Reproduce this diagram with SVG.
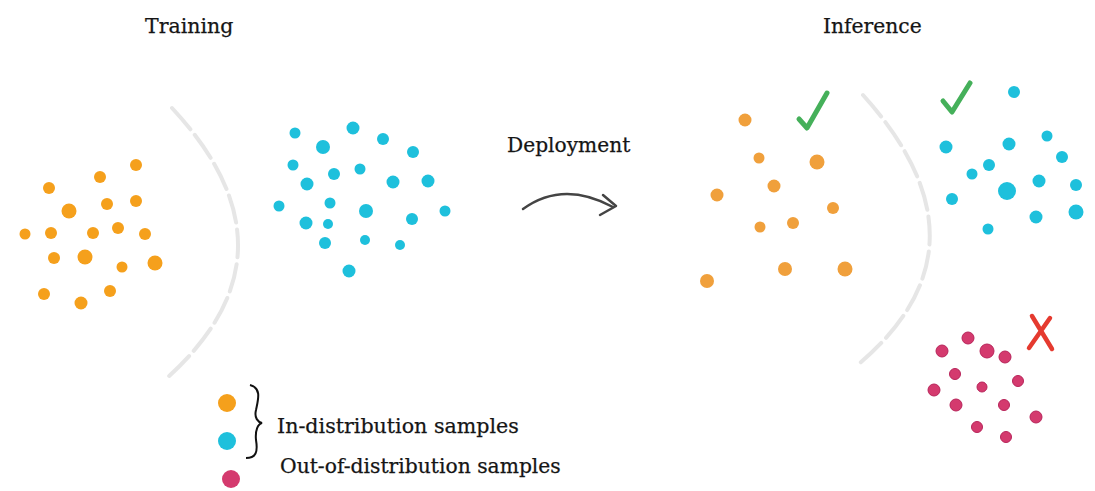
<svg xmlns="http://www.w3.org/2000/svg" width="1095" height="491" viewBox="0 0 1095 491">
<style>
.t{font-family:"DejaVu Serif","Liberation Serif",serif;fill:#151515;stroke:#151515;stroke-width:0.25}
.o{fill:#f5a01c}
.oi{fill:#f0a03c}
.c{fill:#1ec0dc}
.m{fill:#d43a6e;stroke:#b8245a;stroke-width:1}
.arc{fill:none;stroke:#e6e6e6;stroke-width:4;stroke-dasharray:28 7;stroke-linecap:round}
.chk{fill:none;stroke:#45b05a;stroke-width:5;stroke-linecap:round;stroke-linejoin:round}
</style>
<rect width="1095" height="491" fill="#ffffff"/>
<g id="titles">
<text class="t" x="145" y="33" font-size="20.5">Training</text>
<text class="t" x="823" y="33" font-size="20.3">Inference</text>
</g>
<g id="boundaries">
<path class="arc" d="M172,108 Q306,252 168,377"/>
<path class="arc" d="M863,95 Q998,245 860,363"/>
</g>
<g id="train-orange">
<circle class="o" cx="136" cy="165" r="6"/>
<circle class="o" cx="100" cy="177" r="6"/>
<circle class="o" cx="49" cy="188" r="6"/>
<circle class="o" cx="69" cy="211" r="7.5"/>
<circle class="o" cx="107" cy="204" r="6"/>
<circle class="o" cx="136" cy="201" r="6"/>
<circle class="o" cx="25" cy="234" r="5.5"/>
<circle class="o" cx="51" cy="233" r="6"/>
<circle class="o" cx="93" cy="233" r="6"/>
<circle class="o" cx="118" cy="228" r="6"/>
<circle class="o" cx="145" cy="234" r="6"/>
<circle class="o" cx="54" cy="258" r="6"/>
<circle class="o" cx="85" cy="257" r="7.5"/>
<circle class="o" cx="122" cy="267" r="5.5"/>
<circle class="o" cx="155" cy="263" r="7.5"/>
<circle class="o" cx="44" cy="294" r="6"/>
<circle class="o" cx="81" cy="303" r="6.5"/>
<circle class="o" cx="110" cy="291" r="6"/>
</g>
<g id="train-cyan">
<circle class="c" cx="295" cy="133" r="5.5"/>
<circle class="c" cx="353" cy="128" r="6.5"/>
<circle class="c" cx="383" cy="139" r="6"/>
<circle class="c" cx="323" cy="147" r="7"/>
<circle class="c" cx="413" cy="152" r="6"/>
<circle class="c" cx="293" cy="165" r="5.5"/>
<circle class="c" cx="334" cy="174" r="6"/>
<circle class="c" cx="360" cy="169" r="5.5"/>
<circle class="c" cx="307" cy="184" r="6.5"/>
<circle class="c" cx="393" cy="182" r="6.5"/>
<circle class="c" cx="428" cy="181" r="6.5"/>
<circle class="c" cx="279" cy="206" r="5.5"/>
<circle class="c" cx="330" cy="203" r="5.5"/>
<circle class="c" cx="366" cy="211" r="7"/>
<circle class="c" cx="445" cy="211" r="5.5"/>
<circle class="c" cx="306" cy="223" r="6.5"/>
<circle class="c" cx="328" cy="224" r="5"/>
<circle class="c" cx="412" cy="219" r="6"/>
<circle class="c" cx="325" cy="243" r="6"/>
<circle class="c" cx="365" cy="240" r="5"/>
<circle class="c" cx="400" cy="245" r="5"/>
<circle class="c" cx="349" cy="271" r="6.5"/>
</g>
<g id="deployment">
<text class="t" x="507" y="152" font-size="20.2">Deployment</text>
</g>
<g id="connectors">
<path d="M523,209 Q563,180 613,207" fill="none" stroke="#444" stroke-width="2.5" stroke-linecap="round"/>
<path d="M603,195 L616,206 L600,215" fill="none" stroke="#444" stroke-width="2.5" stroke-linecap="round" stroke-linejoin="round"/>
</g>
<g id="infer-orange">
<circle class="oi" cx="745" cy="120" r="6.5"/>
<circle class="oi" cx="759" cy="158" r="5.5"/>
<circle class="oi" cx="817" cy="162" r="7.5"/>
<circle class="oi" cx="774" cy="186" r="6.5"/>
<circle class="oi" cx="717" cy="195" r="6.5"/>
<circle class="oi" cx="833" cy="208" r="6"/>
<circle class="oi" cx="760" cy="227" r="5.5"/>
<circle class="oi" cx="793" cy="223" r="6"/>
<circle class="oi" cx="707" cy="281" r="7"/>
<circle class="oi" cx="785" cy="269" r="7"/>
<circle class="oi" cx="845" cy="269" r="7.5"/>
</g>
<g id="check1"><path class="chk" d="M799,119 L807,128 L827,93"/></g>
<g id="infer-cyan">
<circle class="c" cx="1014" cy="92" r="6"/>
<circle class="c" cx="946" cy="147" r="6.5"/>
<circle class="c" cx="1009" cy="144" r="6.5"/>
<circle class="c" cx="1047" cy="136" r="5.5"/>
<circle class="c" cx="1062" cy="157" r="6"/>
<circle class="c" cx="989" cy="165" r="6"/>
<circle class="c" cx="972" cy="174" r="5.5"/>
<circle class="c" cx="1007" cy="191" r="9"/>
<circle class="c" cx="1039" cy="181" r="6.5"/>
<circle class="c" cx="1076" cy="185" r="6"/>
<circle class="c" cx="952" cy="199" r="6"/>
<circle class="c" cx="1036" cy="217" r="6.5"/>
<circle class="c" cx="1076" cy="212" r="7.5"/>
<circle class="c" cx="988" cy="229" r="5.5"/>
</g>
<g id="check2"><path class="chk" d="M943,101 L952,112 L970,83"/></g>
<g id="ood-magenta">
<circle class="m" cx="968" cy="338" r="6"/>
<circle class="m" cx="942" cy="351" r="6"/>
<circle class="m" cx="987" cy="351" r="7"/>
<circle class="m" cx="1005" cy="357" r="6"/>
<circle class="m" cx="955" cy="374" r="5.5"/>
<circle class="m" cx="1018" cy="381" r="5.5"/>
<circle class="m" cx="934" cy="390" r="6"/>
<circle class="m" cx="982" cy="387" r="5"/>
<circle class="m" cx="956" cy="405" r="6"/>
<circle class="m" cx="1004" cy="405" r="5.5"/>
<circle class="m" cx="1036" cy="417" r="6"/>
<circle class="m" cx="977" cy="427" r="5.5"/>
<circle class="m" cx="1006" cy="437" r="5.5"/>
</g>
<g id="cross">
<path d="M1032,316 L1052,349 M1050,318 L1029,348" fill="none" stroke="#e53a2f" stroke-width="4.5" stroke-linecap="round"/>
</g>
<g id="legend">
<circle class="o" cx="227" cy="403" r="9"/>
<circle class="c" cx="227" cy="441" r="9"/>
<circle cx="231" cy="479" r="9" fill="#d43a6e"/>
<path d="M250,385 C262,388 258,400 256,410 C254,418 258,422 262,423 C258,424 255,430 256,440 C258,452 256,458 246,458" fill="none" stroke="#111" stroke-width="2"/>
<text class="t" x="277" y="433" font-size="20.6">In-distribution samples</text>
<text class="t" x="280" y="473" font-size="20.3">Out-of-distribution samples</text>
</g>
</svg>
